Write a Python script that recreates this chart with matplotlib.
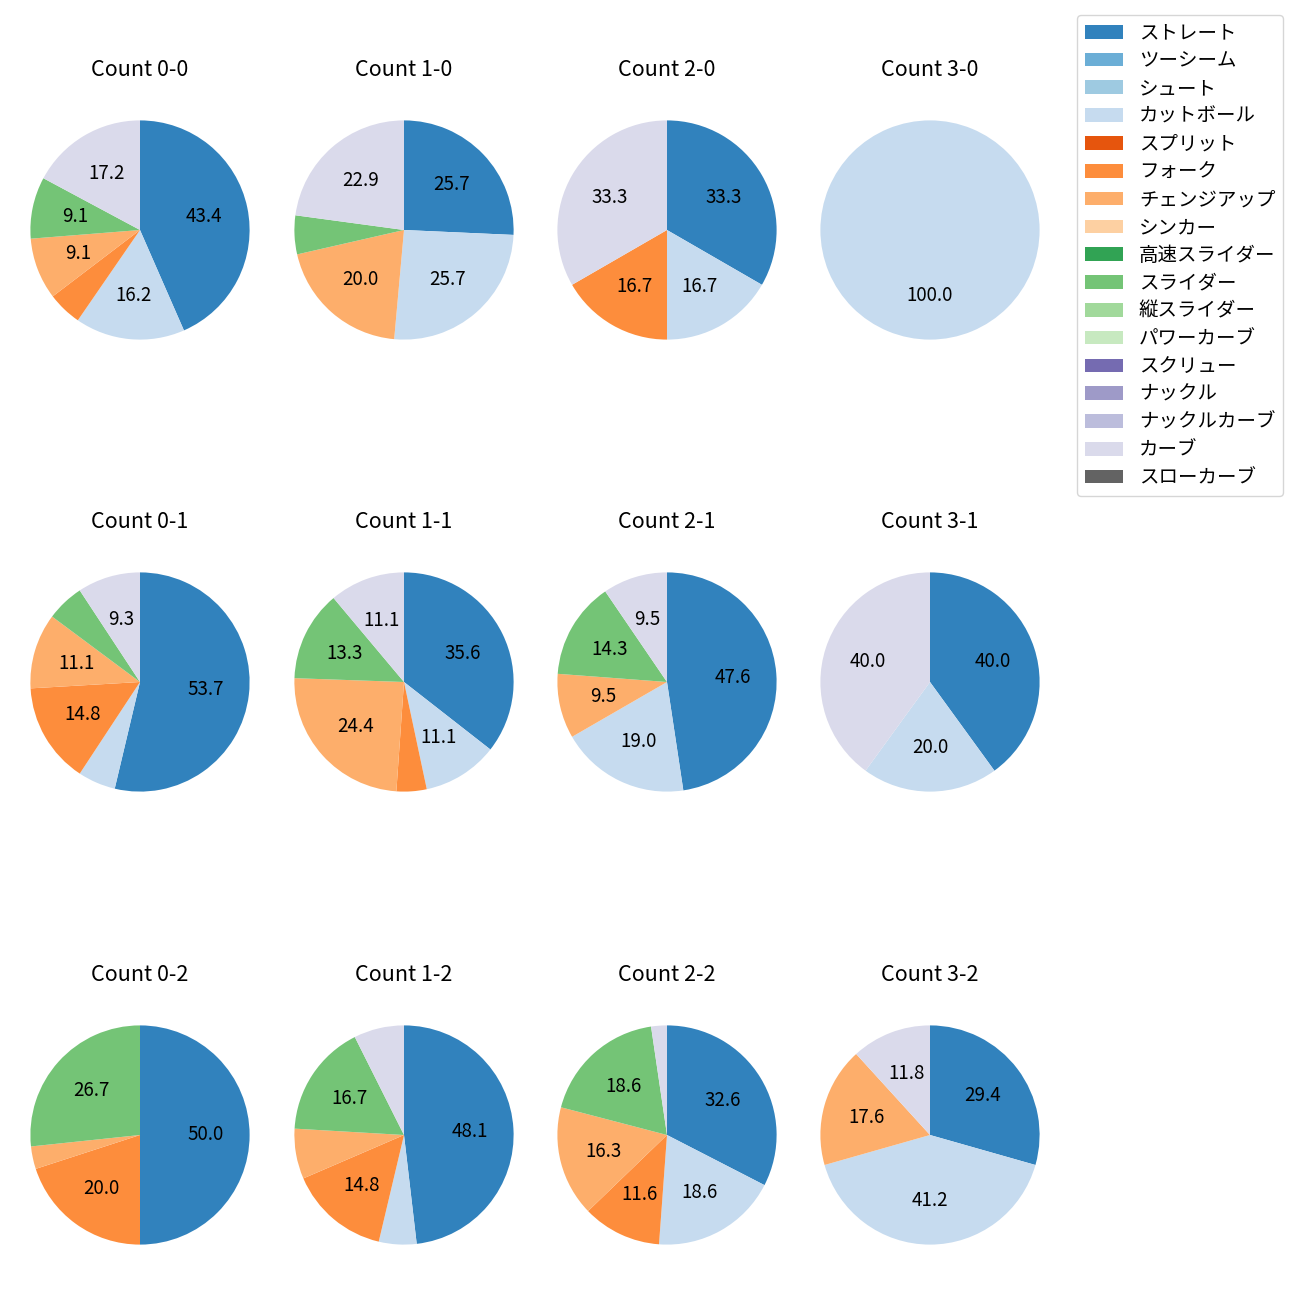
import numpy as np
import matplotlib
matplotlib.use('Agg')
import matplotlib.pyplot as plt
from matplotlib.patches import Patch

plt.rcParams['font.family'] = ['Noto Sans CJK JP', 'DejaVu Sans']

pitch_types = ['ストレート', 'ツーシーム', 'シュート', 'カットボール', 'スプリット', 'フォーク',
               'チェンジアップ', 'シンカー', '高速スライダー', 'スライダー', '縦スライダー',
               'パワーカーブ', 'スクリュー', 'ナックル', 'ナックルカーブ', 'カーブ', 'スローカーブ']

# pitch counts per ball-strike count, in the order of pitch_types
#                 St Tw Sh Ct Sp Fk Ch Si HS Sl VS PC Sc Kn KC Cv SC
count_0_0 = [43, 0, 0, 16, 0, 5, 9, 0, 0, 9, 0, 0, 0, 0, 0, 17, 0]
count_1_0 = [9, 0, 0, 9, 0, 0, 7, 0, 0, 2, 0, 0, 0, 0, 0, 8, 0]
count_2_0 = [2, 0, 0, 1, 0, 1, 0, 0, 0, 0, 0, 0, 0, 0, 0, 2, 0]
count_3_0 = [0, 0, 0, 1, 0, 0, 0, 0, 0, 0, 0, 0, 0, 0, 0, 0, 0]
count_0_1 = [29, 0, 0, 3, 0, 8, 6, 0, 0, 3, 0, 0, 0, 0, 0, 5, 0]
count_1_1 = [16, 0, 0, 5, 0, 2, 11, 0, 0, 6, 0, 0, 0, 0, 0, 5, 0]
count_2_1 = [10, 0, 0, 4, 0, 0, 2, 0, 0, 3, 0, 0, 0, 0, 0, 2, 0]
count_3_1 = [2, 0, 0, 1, 0, 0, 0, 0, 0, 0, 0, 0, 0, 0, 0, 2, 0]
count_0_2 = [15, 0, 0, 0, 0, 6, 1, 0, 0, 8, 0, 0, 0, 0, 0, 0, 0]
count_1_2 = [26, 0, 0, 3, 0, 8, 4, 0, 0, 9, 0, 0, 0, 0, 0, 4, 0]
count_2_2 = [14, 0, 0, 8, 0, 5, 7, 0, 0, 8, 0, 0, 0, 0, 0, 1, 0]
count_3_2 = [5, 0, 0, 7, 0, 0, 3, 0, 0, 0, 0, 0, 0, 0, 0, 2, 0]

titles = [['Count 0-0', 'Count 1-0', 'Count 2-0', 'Count 3-0'],
          ['Count 0-1', 'Count 1-1', 'Count 2-1', 'Count 3-1'],
          ['Count 0-2', 'Count 1-2', 'Count 2-2', 'Count 3-2']]
data = [[count_0_0, count_1_0, count_2_0, count_3_0],
        [count_0_1, count_1_1, count_2_1, count_3_1],
        [count_0_2, count_1_2, count_2_2, count_3_2]]

colors = plt.cm.tab20c(np.arange(len(pitch_types)))

W = H = 1300
fig = plt.figure(figsize=(13, 13), dpi=100)

cx = [140, 404, 667, 930]   # pie centres, px from left
cy = [230, 682, 1135]       # pie centres, px from top
box = 274                    # axes size in px (pie radius = box/2.5)

def autopct(p):
    return '%1.1f' % p if p >= 8 else ''

for r in range(3):
    for c in range(4):
        ax = fig.add_axes([(cx[c] - box/2)/W, 1 - (cy[r] + box/2)/H, box/W, box/H])
        vals = np.array(data[r][c], dtype=float)
        m = vals > 0
        ax.pie(vals[m], colors=colors[m], startangle=90, counterclock=False,
               autopct=autopct, pctdistance=0.6, textprops={'fontsize': 13.5})
        ax.set_xlim(-1.25, 1.25); ax.set_ylim(-1.25, 1.25)
        ax.set_title(titles[r][c], fontsize=15.5, pad=12)

handles = [Patch(facecolor=colors[i], label=pitch_types[i]) for i in range(len(pitch_types))]
fig.legend(handles=handles, loc='upper left', bbox_to_anchor=(1067/W, 1 - 5/H),
           fontsize=14, labelspacing=0.35)

plt.savefig('out.png')
